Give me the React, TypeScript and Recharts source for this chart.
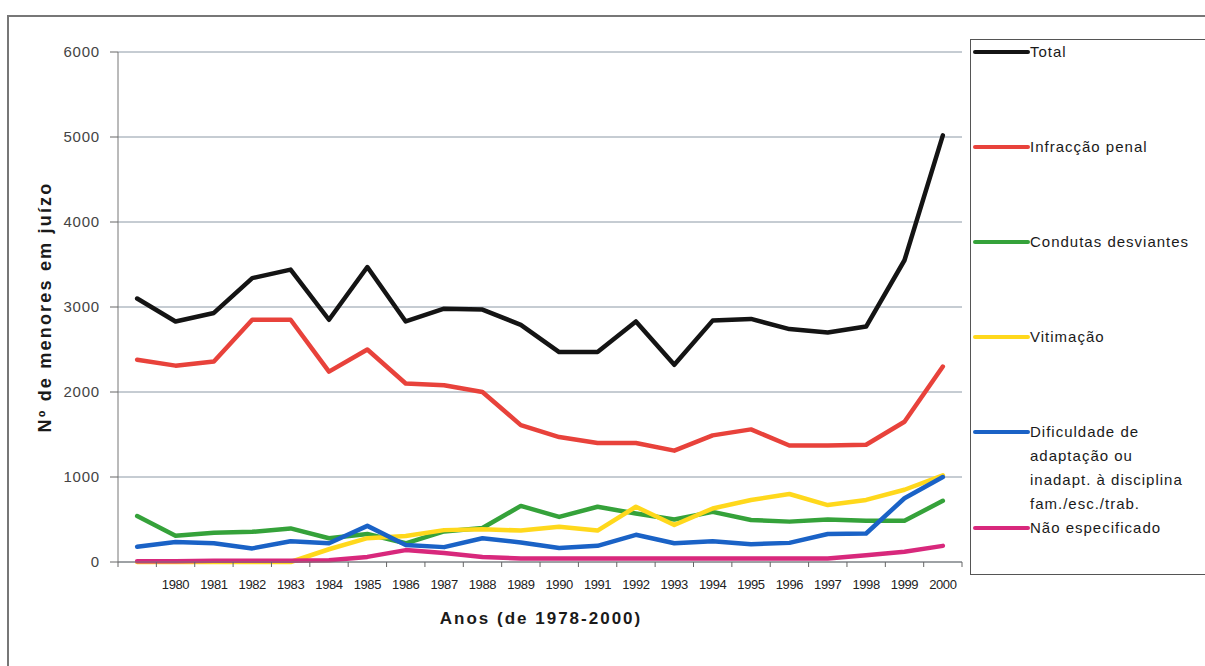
import React from 'react';
import { LineChart, Line, XAxis, YAxis, CartesianGrid, Legend } from 'recharts';

const categories = ['', '1980', '1981', '1982', '1983', '1984', '1985', '1986', '1987', '1988', '1989', '1990', '1991', '1992', '1993', '1994', '1995', '1996', '1997', '1998', '1999', '2000'];
const total = [3100, 2830, 2930, 3340, 3440, 2850, 3470, 2830, 2980, 2970, 2790, 2470, 2470, 2830, 2320, 2840, 2860, 2740, 2700, 2770, 3550, 5020];
const infraccaoPenal = [2380, 2310, 2360, 2850, 2850, 2240, 2500, 2100, 2080, 2000, 1610, 1470, 1400, 1400, 1310, 1490, 1560, 1370, 1370, 1380, 1650, 2300];
const condutasDesviantes = [540, 310, 345, 355, 395, 280, 330, 220, 360, 400, 660, 530, 650, 570, 500, 590, 495, 475, 500, 485, 485, 720];
const vitimacao = [0, 0, 0, 0, 0, 150, 280, 305, 375, 385, 370, 415, 370, 650, 435, 630, 730, 800, 670, 730, 850, 1020];
const dificuldade = [180, 235, 220, 160, 245, 220, 425, 200, 175, 280, 230, 165, 190, 320, 220, 245, 210, 225, 330, 335, 750, 1000];
const naoEspecificado = [10, 10, 15, 15, 15, 20, 60, 140, 105, 60, 40, 40, 40, 40, 40, 40, 40, 40, 40, 80, 120, 190];

const yTicks = [0, 1000, 2000, 3000, 4000, 5000, 6000];
const xTitle = 'Anos (de 1978-2000)';
const yTitle = 'Nº de menores em juízo';

const series = [
  { key: 'total', lines: ['Total'], color: '#141414', values: total },
  { key: 'infraccao', lines: ['Infracção penal'], color: '#e8423b', values: infraccaoPenal },
  { key: 'condutas', lines: ['Condutas desviantes'], color: '#35a23a', values: condutasDesviantes },
  { key: 'vitimacao', lines: ['Vitimação'], color: '#ffd81c', values: vitimacao },
  { key: 'dificuldade', lines: ['Dificuldade de', 'adaptação ou', 'inadapt. à disciplina', 'fam./esc./trab.'], color: '#1a62c6', values: dificuldade },
  { key: 'nao', lines: ['Não especificado'], color: '#d8287c', values: naoEspecificado },
];

const data = categories.map((year, i) => {
  const row: Record<string, string | number> = { year };
  series.forEach((s) => {
    row[s.key] = s.values[i];
  });
  return row;
});

const FONT = "'Liberation Sans', Arial, sans-serif";
const HALF_STEP = 19.15;

const XTick = (props: any) => {
  const { x, y, payload, index, visibleTicksCount } = props;
  const isLast = index === visibleTicksCount - 1;
  return (
    <g>
      <line x1={x - HALF_STEP} x2={x - HALF_STEP} y1={y - 8} y2={y - 3} stroke="#666" />
      {isLast && <line x1={x + HALF_STEP} x2={x + HALF_STEP} y1={y - 8} y2={y - 3} stroke="#666" />}
      <text x={x} y={y} dy={18.5} textAnchor="middle" fill="#222" fontSize={13} letterSpacing={-0.4} fontFamily={FONT}>
        {payload.value}
      </text>
    </g>
  );
};

const LegendBox = () => (
  <div
    style={{
      width: 250,
      height: 536,
      boxSizing: 'border-box',
      border: '1px solid #555',
      borderRight: 'none',
      background: '#fff',
      fontFamily: FONT,
      fontSize: 15,
      color: '#1a1a1a',
      letterSpacing: 1,
    }}
  >
    {series.map((s) => (
      <div key={s.key} style={{ position: 'relative', minHeight: 95 }}>
        <div
          style={{
            position: 'absolute',
            left: 2,
            top: 10,
            width: 57,
            height: 4,
            borderRadius: 2,
            background: s.color,
          }}
        />
        <div style={{ paddingLeft: 59, whiteSpace: 'nowrap' }}>
          {s.lines.map((l, j) => (
            <div key={j} style={{ height: 24, lineHeight: '24px' }}>
              {l}
            </div>
          ))}
        </div>
      </div>
    ))}
  </div>
);

export default function App() {
  return (
    <div style={{ position: 'absolute', left: 0, top: 0, width: 1205, height: 666, overflow: 'hidden', background: '#fff' }}>
      <div
        style={{
          position: 'absolute',
          left: 7,
          top: 15,
          width: 1300,
          height: 800,
          borderLeft: '2px solid #777',
          borderTop: '2px solid #777',
        }}
      />
      <div style={{ position: 'absolute', left: 0, top: 0 }}>
        <LineChart width={1205} height={666} data={data} margin={{ top: 52, right: 243, bottom: 74, left: 58 }}>
          <CartesianGrid vertical={false} stroke="#8c99a6" strokeWidth={1} />
          <XAxis
            dataKey="year"
            interval={0}
            padding={{ left: HALF_STEP, right: HALF_STEP }}
            tick={<XTick />}
            tickLine={false}
            axisLine={{ stroke: '#777' }}
            height={30}
            label={{
              content: (p: any) => {
                const vb = p.viewBox;
                return (
                  <text
                    x={vb.x + vb.width / 2 + 1}
                    y={vb.y + 62}
                    textAnchor="middle"
                    fontFamily={FONT}
                    fontWeight="bold"
                    fontSize={17}
                    letterSpacing={2}
                    fill="#1a1a1a"
                  >
                    {xTitle}
                  </text>
                );
              },
            }}
          />
          <YAxis
            domain={[0, 6000]}
            ticks={yTicks}
            interval={0}
            width={60}
            tickSize={8}
            tickMargin={10}
            tick={{ fill: '#444', fontSize: 15, fontFamily: FONT, letterSpacing: 0.8 }}
            tickLine={{ stroke: '#666' }}
            axisLine={{ stroke: '#777' }}
            label={{
              content: (p: any) => {
                const vb = p.viewBox;
                const cx = vb.x - 13;
                const cy = vb.y + vb.height / 2;
                return (
                  <text
                    x={cx}
                    y={cy}
                    transform={`rotate(-90 ${cx} ${cy})`}
                    textAnchor="middle"
                    dominantBaseline="central"
                    fontFamily={FONT}
                    fontWeight="bold"
                    fontSize={18}
                    letterSpacing={2.2}
                    fill="#1a1a1a"
                  >
                    {yTitle}
                  </text>
                );
              },
            }}
          />
          <Legend
            layout="horizontal"
            verticalAlign="middle"
            align="center"
            content={() => <LegendBox />}
            wrapperStyle={{ left: 970, top: 39, width: 250, height: 536 }}
          />
          {series.map((s) => (
            <Line
              key={s.key}
              dataKey={s.key}
              type="linear"
              stroke={s.color}
              strokeWidth={4.5}
              dot={false}
              activeDot={false}
              isAnimationActive={false}
              strokeLinejoin="round"
              strokeLinecap="round"
            />
          ))}
        </LineChart>
      </div>
    </div>
  );
}
